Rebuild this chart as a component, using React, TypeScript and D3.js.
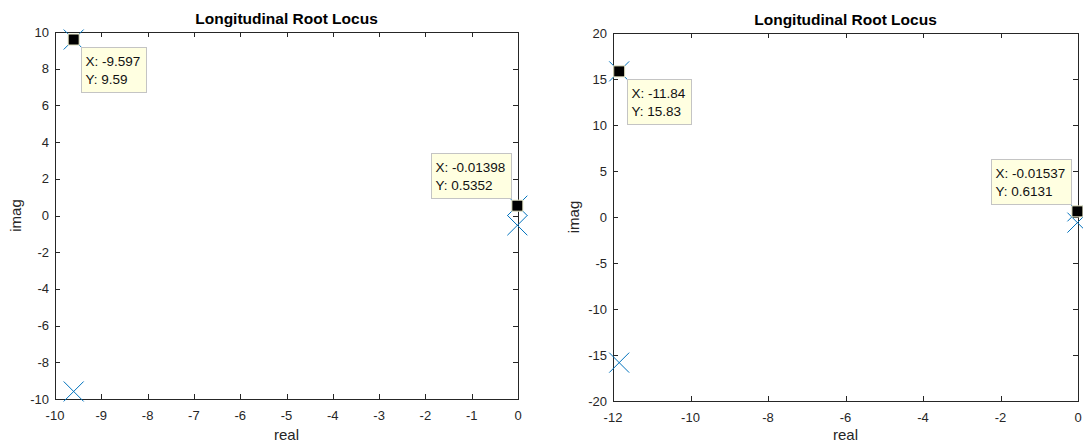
import { useEffect, useRef } from 'react'
import * as d3 from 'd3'

// poles of the closed loop (real / imag parts), one set per panel
const leftPoleRe = [-9.597, -9.597, -0.01398, -0.01398]
const leftPoleIm = [9.59, -9.59, 0.5352, -0.5352]
const rightPoleRe = [-11.84, -11.84, -0.01537, -0.01537]
const rightPoleIm = [15.83, -15.83, 0.6131, -0.6131]

// data tips
const leftTipRe = [-9.597, -0.01398]
const leftTipIm = [9.59, 0.5352]
const rightTipRe = [-11.84, -0.01537]
const rightTipIm = [15.83, 0.6131]

// ticks
const leftXTicks = [-10, -9, -8, -7, -6, -5, -4, -3, -2, -1, 0]
const leftYTicks = [-10, -8, -6, -4, -2, 0, 2, 4, 6, 8, 10]
const rightXTicks = [-12, -10, -8, -6, -4, -2, 0]
const rightYTicks = [-20, -15, -10, -5, 0, 5, 10, 15, 20]

const FONT = "'Liberation Sans', Arial, Helvetica, sans-serif"
const INK = '#262626'
const BLUE = '#0072BD'

interface PanelCfg {
  left: number; right: number; top: number; bottom: number
  xDomain: [number, number]; yDomain: [number, number]
  xTicks: number[]; yTicks: number[]
  poleRe: number[]; poleIm: number[]
  tipRe: number[]; tipIm: number[]
  tipSide: ('se' | 'nw')[]
}

function drawPanel(svg: d3.Selection<SVGSVGElement, unknown, null, undefined>, p: PanelCfg) {
  const x = d3.scaleLinear().domain(p.xDomain).range([p.left, p.right])
  const y = d3.scaleLinear().domain(p.yDomain).range([p.bottom, p.top])
  const g = svg.append('g')
  const midX = (p.left + p.right) / 2
  const midY = (p.top + p.bottom) / 2

  // axes box
  g.append('rect')
    .attr('x', p.left + 0.5).attr('y', p.top + 0.5)
    .attr('width', p.right - p.left).attr('height', p.bottom - p.top)
    .attr('fill', 'none').attr('stroke', INK).attr('stroke-width', 1)

  const tl = 5
  p.xTicks.forEach(t => {
    const px = Math.round(x(t)) + 0.5
    g.append('line').attr('x1', px).attr('x2', px).attr('y1', p.bottom).attr('y2', p.bottom - tl).attr('stroke', INK)
    g.append('line').attr('x1', px).attr('x2', px).attr('y1', p.top).attr('y2', p.top + tl).attr('stroke', INK)
    g.append('text')
      .attr('x', x(t)).attr('y', p.bottom + 21)
      .attr('text-anchor', 'middle').attr('font-size', 13).attr('font-family', FONT).attr('fill', INK)
      .text(String(t))
  })
  p.yTicks.forEach(t => {
    const py = Math.round(y(t)) + 0.5
    g.append('line').attr('x1', p.left).attr('x2', p.left + tl).attr('y1', py).attr('y2', py).attr('stroke', INK)
    g.append('line').attr('x1', p.right).attr('x2', p.right - tl).attr('y1', py).attr('y2', py).attr('stroke', INK)
    g.append('text')
      .attr('x', p.left - 6).attr('y', y(t) + 4.5)
      .attr('text-anchor', 'end').attr('font-size', 13).attr('font-family', FONT).attr('fill', INK)
      .text(String(t))
  })

  g.append('text')
    .attr('x', midX).attr('y', p.top - 8)
    .attr('text-anchor', 'middle').attr('font-size', 15.5).attr('font-weight', 'bold')
    .attr('font-family', FONT).attr('fill', '#000')
    .text('Longitudinal Root Locus')
  g.append('text')
    .attr('x', midX).attr('y', Math.min(p.bottom + 42, 440))
    .attr('text-anchor', 'middle').attr('font-size', 15).attr('font-family', FONT).attr('fill', INK)
    .text('real')
  g.append('text')
    .attr('transform', `translate(${p.left - 34},${midY}) rotate(-90)`)
    .attr('text-anchor', 'middle').attr('font-size', 15).attr('font-family', FONT).attr('fill', INK)
    .text('imag')

  // pole markers
  const h = 10
  p.poleRe.forEach((re, i) => {
    g.append('path')
      .attr('transform', `translate(${x(re)},${y(p.poleIm[i])})`)
      .attr('d', `M${-h},${-h}L${h},${h}M${-h},${h}L${h},${-h}`)
      .attr('stroke', BLUE).attr('stroke-width', 1).attr('fill', 'none')
  })

  // data tips
  p.tipRe.forEach((re, i) => {
    const im = p.tipIm[i]
    const px = x(re), py = y(im)
    g.append('rect')
      .attr('x', px - 5.5).attr('y', py - 5.5).attr('width', 11).attr('height', 11)
      .attr('fill', '#000').attr('stroke', '#e8e8c8').attr('stroke-width', 1)

    const tip = g.append('g')
    const box = tip.append('rect')
      .attr('fill', '#ffffe1').attr('stroke', '#c4c4c4').attr('stroke-width', 1)
    const l1 = tip.append('text').attr('font-size', 13.5).attr('font-family', FONT).attr('fill', '#111').text(`X: ${re}`)
    const l2 = tip.append('text').attr('font-size', 13.5).attr('font-family', FONT).attr('fill', '#111').text(`Y: ${im}`)
    const tw = Math.max((l1.node() as SVGTextElement).getComputedTextLength(), (l2.node() as SVGTextElement).getComputedTextLength())
    const bw = Math.round(tw + 10.5)
    const bh = 45
    let bx: number, by: number
    if (p.tipSide[i] === 'se') { bx = Math.round(px + 7.5); by = Math.round(py + 7.5) }
    else { bx = Math.round(px - 6 - bw); by = Math.round(py - 7.5 - bh) }
    box.attr('x', bx + 0.5).attr('y', by + 0.5).attr('width', bw).attr('height', bh)
    l1.attr('x', bx + 4.5).attr('y', by + 19)
    l2.attr('x', bx + 4.5).attr('y', by + 36.5)
  })
}

export default function App() {
  const svgRef = useRef<SVGSVGElement>(null)

  useEffect(() => {
    if (!svgRef.current) return
    const svg = d3.select(svgRef.current)
    svg.selectAll('*').remove()
    drawPanel(svg, {
      left: 55, right: 518, top: 32, bottom: 399,
      xDomain: [-10, 0], yDomain: [-10, 10],
      xTicks: leftXTicks, yTicks: leftYTicks,
      poleRe: leftPoleRe, poleIm: leftPoleIm,
      tipRe: leftTipRe, tipIm: leftTipIm, tipSide: ['se', 'nw'],
    })
    drawPanel(svg, {
      left: 613, right: 1078, top: 33, bottom: 401,
      xDomain: [-12, 0], yDomain: [-20, 20],
      xTicks: rightXTicks, yTicks: rightYTicks,
      poleRe: rightPoleRe, poleIm: rightPoleIm,
      tipRe: rightTipRe, tipIm: rightTipIm, tipSide: ['se', 'nw'],
    })
  }, [])

  return (
    <svg ref={svgRef} width={1083} height={443}
      style={{ position: 'absolute', left: 0, top: 0, background: '#fff', display: 'block' }} />
  )
}
